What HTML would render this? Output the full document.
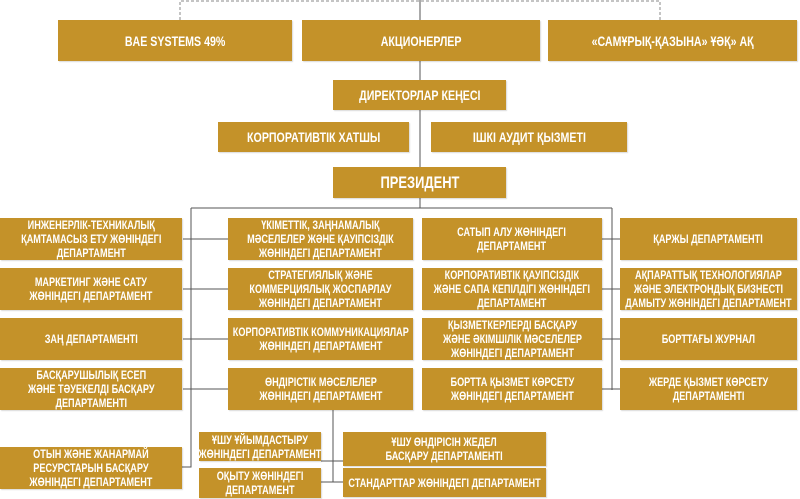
<!DOCTYPE html>
<html><head><meta charset="utf-8"><style>
body{margin:0;width:800px;height:499px;background:#fff;position:relative;overflow:hidden;font-family:"Liberation Sans",sans-serif;}
.b{position:absolute;background:#c49229;color:#fff;display:flex;align-items:center;justify-content:center;text-align:center;font-size:12px;line-height:14px;font-weight:bold;box-shadow:1px 1px 1px rgba(0,0,0,0.15);}
.b span{display:inline-block;white-space:nowrap;transform:scaleX(0.76);}
.t{font-size:14px;}
svg{position:absolute;left:0;top:0}
</style></head><body>
<svg width="800" height="499">
<g stroke="#888" stroke-width="1" stroke-dasharray="3,2" fill="none">
<path d="M180 20 V1 H660 V20"/>
</g>
<g stroke="#555" stroke-width="1" fill="none">
<path d="M420 0 V208"/>
<path d="M191 208 H612"/>
<path d="M191 208 V467 H182"/>
<path d="M612 208 V390"/>
<path d="M183 239 H228 M183 289 H228 M183 339 H228 M183 389 H228"/>
<path d="M602 239 H620 M602 289 H620 M602 339 H620 M602 389 H620"/>
<path d="M333 410 V482"/>
<path d="M321 461 H343 M321 482 H343"/>
</g>
</svg>
<div class="b t" style="left:58px;top:20px;width:234px;height:41px"><span>BAE SYSTEMS 49%</span></div>
<div class="b t" style="left:302px;top:20px;width:238px;height:41px"><span>АКЦИОНЕРЛЕР</span></div>
<div class="b t" style="left:548px;top:20px;width:249px;height:41px"><span>«САМҰРЫҚ-ҚАЗЫНА» ҰӘҚ» АҚ</span></div>
<div class="b t" style="left:333px;top:80px;width:173px;height:30px"><span>ДИРЕКТОРЛАР КЕҢЕСІ</span></div>
<div class="b t" style="left:218px;top:122px;width:191px;height:30px"><span>КОРПОРАТИВТІК ХАТШЫ</span></div>
<div class="b t" style="left:431px;top:122px;width:196px;height:30px"><span>ІШКІ АУДИТ ҚЫЗМЕТІ</span></div>
<div class="b t" style="left:333px;top:167px;width:173px;height:31px;font-size:17px"><span>ПРЕЗИДЕНТ</span></div>

<div class="b" style="left:0;top:218px;width:182px;height:42px"><span>ИНЖЕНЕРЛІК-ТЕХНИКАЛЫҚ<br>ҚАМТАМАСЫЗ ЕТУ ЖӨНІНДЕГІ<br>ДЕПАРТАМЕНТ</span></div>
<div class="b" style="left:0;top:268px;width:182px;height:42px"><span>МАРКЕТИНГ ЖӘНЕ САТУ<br>ЖӨНІНДЕГІ ДЕПАРТАМЕНТ</span></div>
<div class="b" style="left:0;top:318px;width:182px;height:42px"><span>ЗАҢ ДЕПАРТАМЕНТІ</span></div>
<div class="b" style="left:0;top:368px;width:182px;height:42px"><span>БАСҚАРУШЫЛЫҚ ЕСЕП<br>ЖӘНЕ ТӘУЕКЕЛДІ БАСҚАРУ<br>ДЕПАРТАМЕНТІ</span></div>
<div class="b" style="left:0;top:447px;width:182px;height:42px"><span>ОТЫН ЖӘНЕ ЖАНАРМАЙ<br>РЕСУРСТАРЫН БАСҚАРУ<br>ЖӨНІНДЕГІ ДЕПАРТАМЕНТ</span></div>

<div class="b" style="left:228px;top:218px;width:185px;height:42px"><span>ҮКІМЕТТІК, ЗАҢНАМАЛЫҚ<br>МӘСЕЛЕЛЕР ЖӘНЕ ҚАУІПСІЗДІК<br>ЖӨНІНДЕГІ ДЕПАРТАМЕНТ</span></div>
<div class="b" style="left:228px;top:268px;width:185px;height:42px"><span>СТРАТЕГИЯЛЫҚ ЖӘНЕ<br>КОММЕРЦИЯЛЫҚ ЖОСПАРЛАУ<br>ЖӨНІНДЕГІ ДЕПАРТАМЕНТ</span></div>
<div class="b" style="left:228px;top:318px;width:185px;height:42px"><span>КОРПОРАТИВТІК КОММУНИКАЦИЯЛАР<br>ЖӨНІНДЕГІ ДЕПАРТАМЕНТ</span></div>
<div class="b" style="left:228px;top:368px;width:185px;height:42px"><span>ӨНДІРІСТІК МӘСЕЛЕЛЕР<br>ЖӨНІНДЕГІ ДЕПАРТАМЕНТ</span></div>

<div class="b" style="left:422px;top:218px;width:180px;height:42px"><span>САТЫП АЛУ ЖӨНІНДЕГІ<br>ДЕПАРТАМЕНТ</span></div>
<div class="b" style="left:422px;top:268px;width:180px;height:42px"><span>КОРПОРАТИВТІК ҚАУІПСІЗДІК<br>ЖӘНЕ САПА КЕПІЛДІГІ ЖӨНІНДЕГІ<br>ДЕПАРТАМЕНТ</span></div>
<div class="b" style="left:422px;top:318px;width:180px;height:42px"><span>ҚЫЗМЕТКЕРЛЕРДІ БАСҚАРУ<br>ЖӘНЕ ӘКІМШІЛІК МӘСЕЛЕЛЕР<br>ЖӨНІНДЕГІ ДЕПАРТАМЕНТ</span></div>
<div class="b" style="left:422px;top:368px;width:180px;height:42px"><span>БОРТТА ҚЫЗМЕТ КӨРСЕТУ<br>ЖӨНІНДЕГІ ДЕПАРТАМЕНТ</span></div>

<div class="b" style="left:620px;top:218px;width:177px;height:42px"><span>ҚАРЖЫ ДЕПАРТАМЕНТІ</span></div>
<div class="b" style="left:620px;top:268px;width:177px;height:42px"><span>АҚПАРАТТЫҚ ТЕХНОЛОГИЯЛАР<br>ЖӘНЕ ЭЛЕКТРОНДЫҚ БИЗНЕСТІ<br>ДАМЫТУ ЖӨНІНДЕГІ ДЕПАРТАМЕНТ</span></div>
<div class="b" style="left:620px;top:318px;width:177px;height:42px"><span>БОРТТАҒЫ ЖУРНАЛ</span></div>
<div class="b" style="left:620px;top:368px;width:177px;height:42px"><span>ЖЕРДЕ ҚЫЗМЕТ КӨРСЕТУ<br>ДЕПАРТАМЕНТІ</span></div>

<div class="b" style="left:199px;top:432px;width:122px;height:29px"><span>ҰШУ ҰЙЫМДАСТЫРУ<br>ЖӨНІНДЕГІ ДЕПАРТАМЕНТ</span></div>
<div class="b" style="left:199px;top:468px;width:122px;height:30px"><span>ОҚЫТУ ЖӨНІНДЕГІ<br>ДЕПАРТАМЕНТ</span></div>
<div class="b" style="left:343px;top:432px;width:203px;height:34px"><span>ҰШУ ӨНДІРІСІН ЖЕДЕЛ<br>БАСҚАРУ ДЕПАРТАМЕНТІ</span></div>
<div class="b" style="left:343px;top:468px;width:203px;height:29px"><span>СТАНДАРТТАР ЖӨНІНДЕГІ ДЕПАРТАМЕНТ</span></div>
</body></html>
